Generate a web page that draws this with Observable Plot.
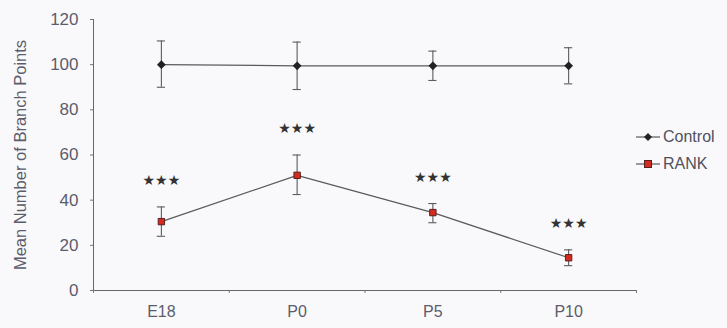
<!DOCTYPE html>
<html>
<head>
<meta charset="utf-8">
<script src="https://cdn.jsdelivr.net/npm/d3@7"></script>
<script src="https://cdn.jsdelivr.net/npm/@observablehq/plot@0.6"></script>
<style>
  html, body { margin: 0; padding: 0; background: #f9f9fb; }
  #wrap { position: relative; width: 727px; height: 328px; font-family: "Liberation Sans", Arial, sans-serif; }
  #legend { position: absolute; left: 636px; top: 123px; font-size: 16px; color: #505060; line-height: 27px; }
  #legend .row { display: flex; align-items: center; }
  #legend svg { margin-right: 3px; }
</style>
</head>
<body>
<div id="wrap">
  <div id="chart"></div>
  <div id="legend"></div>
</div>
<script>
const categories = ["E18", "P0", "P5", "P10"];
const controlMean = [100, 99.5, 99.5, 99.5];
const controlLow  = [90, 89, 93, 91.5];
const controlHigh = [110.5, 110, 106, 107.5];
const rankMean = [30.5, 51, 34.5, 14.5];
const rankLow  = [24, 42.5, 30, 11];
const rankHigh = [37, 60, 38.5, 18];
const sigLabels = ["★★★", "★★★", "★★★", "★★★"];
const yTicks = [0, 20, 40, 60, 80, 100, 120];
const seriesNames = ["Control", "RANK"];

const control = categories.map((c, i) => ({cat: c, xi: i + 0.5, mean: controlMean[i], lo: controlLow[i], hi: controlHigh[i]}));
const rank = categories.map((c, i) => ({cat: c, xi: i + 0.5, mean: rankMean[i], lo: rankLow[i], hi: rankHigh[i], sig: sigLabels[i]}));

const lineColor = "#5b5b5f";
const textColor = "#5c5c6c";
const cap = 0.03;

function errMarks(data) {
  return [
    Plot.ruleX(data, {x: "xi", y1: "lo", y2: "hi", stroke: lineColor, strokeWidth: 1.1}),
    Plot.ruleY(data, {y: "hi", x1: d => d.xi - cap, x2: d => d.xi + cap, stroke: lineColor, strokeWidth: 1.1}),
    Plot.ruleY(data, {y: "lo", x1: d => d.xi - cap, x2: d => d.xi + cap, stroke: lineColor, strokeWidth: 1.1})
  ];
}

const chart = Plot.plot({
  width: 727,
  height: 328,
  marginLeft: 93,
  marginRight: 91,
  marginTop: 19,
  marginBottom: 38,
  style: {background: "transparent", fontFamily: "Liberation Sans, Arial, sans-serif", fontSize: "16px", color: textColor},
  x: {domain: [0, categories.length], axis: null},
  y: {domain: [0, 120], axis: null},
  marks: [
    Plot.axisY({ticks: yTicks, tickSize: 3, tickPadding: 12, fontSize: 17, stroke: "#777", fill: textColor, label: null}),
    Plot.axisY({ticks: [], label: "Mean Number of Branch Points", labelAnchor: "center", labelArrow: false, labelOffset: 79, fontSize: 16.5, fill: textColor}),
    Plot.ruleX([0], {stroke: "#666", strokeWidth: 1}),
    Plot.ruleY([0], {stroke: "#666", strokeWidth: 1}),
    Plot.axisX({ticks: d3.range(0, categories.length + 1), tickSize: 3, tickFormat: () => "", stroke: "#777", label: null}),
    Plot.axisX({ticks: categories.map((c, i) => i + 0.5), tickSize: 0, tickPadding: 15, tickFormat: (d) => categories[Math.floor(d)], fontSize: 16, fill: textColor, label: null}),
    ...errMarks(control),
    ...errMarks(rank),
    Plot.line(control, {x: "xi", y: "mean", stroke: lineColor, strokeWidth: 1.2}),
    Plot.line(rank, {x: "xi", y: "mean", stroke: lineColor, strokeWidth: 1.2}),
    Plot.dot(control, {x: "xi", y: "mean", symbol: "diamond2", r: 3, fill: "#222", stroke: "#222"}),
    Plot.dot(rank, {x: "xi", y: "mean", symbol: "square", r: 3.6, fill: "#d42b20", stroke: "#5a2020", strokeWidth: 1}),
    Plot.text(rank, {x: "xi", y: "hi", text: "sig", dy: -26, fontSize: 14, fill: "#333", fontFamily: "DejaVu Sans", letterSpacing: 0})
  ]
});
document.getElementById("chart").appendChild(chart);

const legend = document.getElementById("legend");
const symbols = [
  '<polygon points="12,1 16,5 12,9 8,5" fill="#222"/>',
  '<rect x="8.5" y="1.5" width="7" height="7" fill="#d42b20" stroke="#5a2020" stroke-width="1"/>'
];
seriesNames.forEach((name, i) => {
  const row = document.createElement("div");
  row.className = "row";
  row.innerHTML = `<svg width="24" height="10"><line x1="0" x2="24" y1="5" y2="5" stroke="${lineColor}" stroke-width="1.2"/>${symbols[i]}</svg><span>${name}</span>`;
  legend.appendChild(row);
});
</script>
</body>
</html>
